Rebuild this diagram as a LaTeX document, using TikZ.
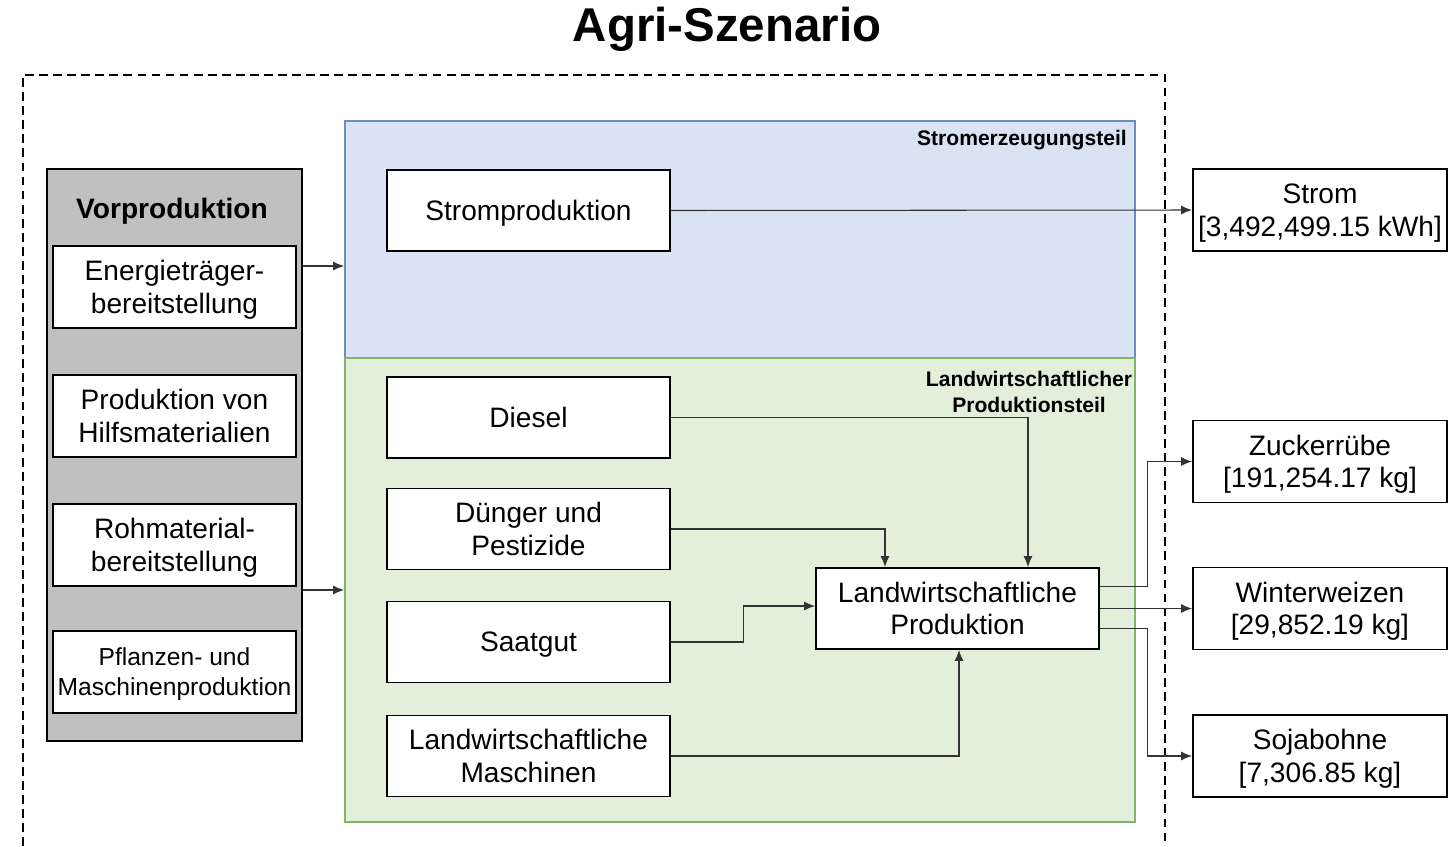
\documentclass[tikz,border=0pt]{standalone}
\usepackage{fontspec}
\setmainfont{Liberation Sans}
\usetikzlibrary{arrows.meta,calc}

\definecolor{strblau}{HTML}{DAE3F3}
\definecolor{strrand}{HTML}{6C8EBF}
\definecolor{lwgruen}{HTML}{E2EFDA}
\definecolor{lwrand}{HTML}{82B366}
\definecolor{vorgrau}{HTML}{C0C0C0}

\tikzset{
    kasten/.style={draw, fill=white, line width=1.1pt, inner sep=0pt, align=center, text depth=0pt,
        minimum width=5.66cm, minimum height=1.62cm, font=\fontsize{16}{18.5}\selectfont},
    vorkasten/.style={kasten, minimum width=4.86cm, minimum height=1.64cm},
    ausgabe/.style={kasten, minimum width=5.08cm, minimum height=1.64cm},
    bereich/.style={draw, line width=1.1pt, inner sep=0pt},
    pfeil/.style={draw=black!80, line width=0.6pt, -{Latex[length=2.2mm,width=1.8mm]}}
}

\begin{document}
\begin{tikzpicture}[x=0.02cm, y=-0.02cm]
        \useasboundingbox (0,0) rectangle (1455,846);
        \node[font=\fontsize{27}{30}\selectfont\bfseries] (titel) at (727,29) {Agri-Szenario};
        \draw[line width=0.9pt, dash pattern=on 5pt off 3pt] (23,846) -- (23,75) -- (1165,75) -- (1165,846);

        % Bereiche
        \node[bereich, fill=strblau, draw=strrand, minimum width=15.8cm, minimum height=4.74cm] (stromteil) at (740,239.5) {};
        \node[bereich, fill=lwgruen, draw=lwrand, minimum width=15.8cm, minimum height=9.28cm] (lwteil) at (740,590) {};
        \node[anchor=east, font=\fontsize{12}{14}\selectfont\bfseries] (stromtitel) at (1133,140) {Stromerzeugungsteil};
        \node[align=center, font=\fontsize{12}{14.5}\selectfont\bfseries] (lwtitel) at (1029,392) {Landwirtschaftlicher\\Produktionsteil};

        % Vorproduktion
        \node[bereich, fill=vorgrau, minimum width=5.1cm, minimum height=11.44cm] (vorprod) at (174.5,455) {};
        \node[font=\fontsize{16}{18}\selectfont\bfseries] (vortitel) at (172,211) {Vorproduktion};
        \node[vorkasten] (energie) at (174.5,287) {Energieträger-\\bereitstellung};
        \node[vorkasten] (hilfs)   at (174.5,416) {Produktion von\\Hilfsmaterialien};
        \node[vorkasten] (rohmat)  at (174.5,545) {Rohmaterial-\\bereitstellung};
        \node[vorkasten, font=\fontsize{14}{17}\selectfont] (pflanz) at (174.5,672) {Pflanzen- und\\Maschinenproduktion};

        % Prozesse
        \node[kasten] (strprod) at (528.5,210.5) {Stromproduktion};
        \node[kasten] (diesel)  at (528.5,417.5) {Diesel};
        \node[kasten] (duenger) at (528.5,529)   {Dünger und\\Pestizide};
        \node[kasten] (saatgut) at (528.5,642)   {Saatgut};
        \node[kasten] (masch)   at (528.5,756)   {Landwirtschaftliche\\Maschinen};
        \node[kasten] (lwprod)  at (957.5,608.5) {Landwirtschaftliche\\Produktion};

        % Produkte
        \node[ausgabe] (strom)  at (1320,210)   {Strom\\{[3,492,499.15 kWh]}};
        \node[ausgabe] (zucker) at (1320,461.5) {Zuckerrübe\\{[191,254.17 kg]}};
        \node[ausgabe] (weizen) at (1320,608.5) {Winterweizen\\{[29,852.19 kg]}};
        \node[ausgabe] (soja)   at (1320,756)   {Sojabohne\\{[7,306.85 kg]}};

        % Verbindungen
        \draw[pfeil] (vorprod.east |- 0,266) -- (stromteil.west |- 0,266);
        \draw[pfeil] (vorprod.east |- 0,590) -- (lwteil.west |- 0,590);
        \draw[pfeil] (strprod.east) -- (strom.west);
        \draw[pfeil] (diesel.east) -| ($(lwprod.north)+(70.5,0)$);
        \draw[pfeil] (duenger.east) -| ($(lwprod.north)+(-72.5,0)$);
        \draw[pfeil] (saatgut.east) -- ++(73,0) |- ($(lwprod.west)+(0,-2.5)$);
        \draw[pfeil] (masch.east) -| ($(lwprod.south)+(1.5,0)$);
        \draw[pfeil] ($(lwprod.east)+(0,-22)$) -- ++(48,0) |- (zucker.west);
        \draw[pfeil] (lwprod.east) -- (weizen.west);
        \draw[pfeil] ($(lwprod.east)+(0,20)$) -- ++(48,0) |- (soja.west);
\end{tikzpicture}
\end{document}
